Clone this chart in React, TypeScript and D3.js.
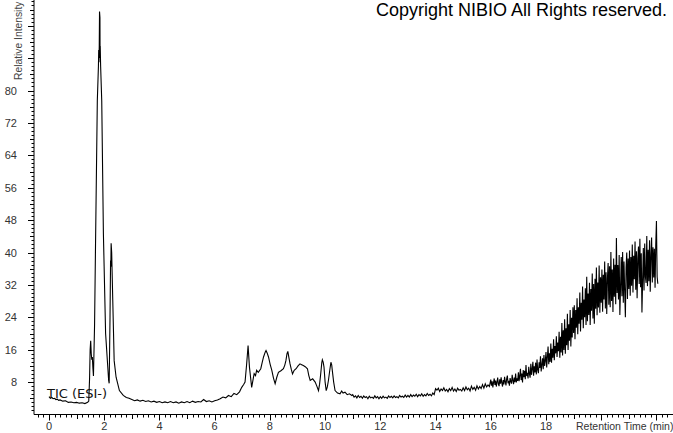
import * as d3 from "d3";

// TIC chromatogram, negative ESI
const xTickLabels = [0, 2, 4, 6, 8, 10, 12, 14, 16, 18];
const yTickLabels = [8, 16, 24, 32, 40, 48, 56, 64, 72, 80];

// [retention time (min), relative intensity]
const earlyTrace: [number, number][] = [
  [0.0, 4.4], [0.05, 4.0], [0.1, 4.2], [0.15, 3.9], [0.2, 4.0], [0.25, 3.7],
  [0.3, 3.8], [0.35, 3.5], [0.4, 3.6], [0.5, 3.3], [0.6, 3.4], [0.7, 3.0],
  [0.8, 3.1], [0.9, 2.9], [1.0, 3.0], [1.1, 2.8], [1.2, 2.9], [1.3, 2.7],
  [1.4, 3.0], [1.44, 3.3], [1.47, 9.0], [1.49, 16.0], [1.51, 18.2],
  [1.53, 15.0], [1.55, 13.5], [1.57, 14.2], [1.59, 11.5], [1.61, 9.5],
  [1.65, 22.0], [1.69, 44.7], [1.75, 77.5], [1.79, 86.0], [1.8, 90.0],
  [1.81, 87.0], [1.82, 91.0], [1.83, 99.5], [1.845, 98.0], [1.85, 88.0],
  [1.855, 91.0], [1.87, 86.0], [1.91, 77.5], [1.97, 44.7], [2.05, 20.0],
  [2.13, 11.6], [2.16, 8.4], [2.18, 7.7], [2.21, 24.0], [2.23, 38.0],
  [2.24, 36.5], [2.25, 42.3], [2.27, 40.0], [2.31, 28.0], [2.36, 13.3],
  [2.43, 9.2], [2.55, 5.9], [2.69, 4.7], [2.8, 4.2],
];

const midTrace: [number, number][] = [
  [2.9, 4.0], [3.0, 3.7], [3.1, 3.4], [3.2, 3.6], [3.3, 3.3], [3.4, 3.5],
  [3.5, 3.2], [3.6, 3.4], [3.7, 3.1], [3.8, 3.3], [3.9, 3.0], [4.0, 3.2],
  [4.1, 2.9], [4.2, 3.1], [4.3, 2.9], [4.4, 3.2], [4.5, 2.9], [4.6, 3.1],
  [4.7, 2.8], [4.8, 3.1], [4.9, 2.9], [5.0, 3.2], [5.1, 2.9], [5.2, 3.3],
  [5.3, 3.0], [5.4, 3.2], [5.5, 3.1], [5.6, 3.7], [5.7, 3.2], [5.8, 3.4],
  [5.9, 3.1], [6.0, 3.4], [6.1, 3.6], [6.2, 3.9], [6.3, 4.3], [6.4, 4.1],
  [6.5, 4.7], [6.6, 4.4], [6.7, 5.2], [6.8, 4.9], [6.9, 5.6], [6.98, 6.7],
  [7.05, 7.4], [7.1, 8.0], [7.16, 12.6], [7.21, 17.0], [7.26, 11.7],
  [7.34, 6.7], [7.4, 9.0], [7.43, 10.1], [7.48, 9.6], [7.52, 10.9],
  [7.58, 10.4], [7.67, 11.3], [7.72, 12.8], [7.77, 14.2], [7.83, 15.4],
  [7.86, 15.8], [7.9, 15.2], [7.95, 14.2], [8.01, 12.4], [8.07, 10.9],
  [8.13, 9.0], [8.19, 7.6], [8.25, 9.2], [8.31, 10.4], [8.4, 10.8],
  [8.49, 11.3], [8.54, 12.2], [8.58, 13.3], [8.62, 15.0], [8.65, 15.6],
  [8.69, 14.0], [8.73, 12.5], [8.78, 11.0], [8.82, 10.0], [8.88, 10.9],
  [8.95, 11.3], [9.02, 12.0], [9.09, 12.5], [9.15, 12.3], [9.21, 12.1],
  [9.28, 11.8], [9.36, 11.3], [9.41, 9.6], [9.46, 8.4], [9.55, 8.8],
  [9.64, 8.0], [9.7, 7.0], [9.76, 5.9], [9.8, 7.5], [9.84, 10.0],
  [9.88, 12.8], [9.9, 13.5], [9.93, 12.9], [9.96, 11.7], [10.0, 8.0],
  [10.04, 5.9], [10.08, 6.8], [10.12, 8.4], [10.17, 11.0], [10.21, 12.9],
  [10.24, 12.2], [10.26, 10.9], [10.31, 8.0], [10.36, 5.9], [10.45, 5.3],
  [10.54, 5.1], [10.6, 5.8], [10.65, 5.3], [10.72, 5.5], [10.8, 4.9],
  [10.88, 5.1], [10.97, 4.7],
];

// scans every 0.05 min, 11.00 - 15.95 min
const lateStart = 11.0;
const lateStep = 0.05;
const lateTrace = [
  4.9, 4.3, 4.6, 4.1, 4.7, 4.2, 4.5, 4.0, 4.6, 4.2, 4.4, 3.9, 4.5, 4.1, 4.3, 4.0, 4.6, 4.1, 4.4, 3.9,
  4.4, 4.0, 4.5, 4.1, 4.3, 4.0, 4.6, 4.2, 4.5, 4.1, 4.6, 4.2, 4.4, 4.1, 4.7, 4.3, 4.5, 4.2, 4.8, 4.3,
  4.7, 4.3, 4.9, 4.4, 4.8, 4.5, 5.0, 4.4, 4.9, 4.6, 5.1, 4.5, 4.9, 4.6, 5.2, 4.7, 5.0, 4.6, 5.3, 4.9,
  6.4, 6.0, 6.5, 5.7, 6.3, 5.9, 6.6, 5.8, 6.2, 5.6, 6.4, 5.9, 6.7, 5.8, 6.3, 5.7, 6.5, 6.0, 6.2, 5.8,
  6.6, 5.9, 6.8, 6.1, 6.5, 5.8, 7.0, 6.2, 6.7, 6.0, 7.1, 6.3, 6.9, 6.4, 7.4, 6.5, 7.6, 6.8, 7.3, 6.9,
];

// scans every 0.025 min, 16.00 - 22.05 min (noisy gradient end)
const tailStart = 16.0;
const tailStep = 0.025;
const tailTrace = [
  8.6, 7.1, 8.2, 6.7, 7.9, 8.9, 7.3, 8.4, 6.9, 8.0, 9.1, 7.5, 7.0, 8.7, 7.6, 9.2, 7.8, 6.9, 8.5, 7.4,
  9.3, 8.1, 7.2, 8.8, 9.6, 7.7, 8.3, 7.1, 9.0, 8.2, 7.6, 9.8, 8.4, 7.5, 9.1, 8.0, 10.1, 7.9, 8.9, 8.3,
  10.4, 8.2, 9.6, 11.3, 8.5, 10.1, 7.9, 11.0, 9.2, 10.8, 8.7, 12.2, 9.5, 10.3, 8.9, 11.8, 10.0, 9.1, 12.5, 9.8,
  11.2, 13.0, 9.6, 11.9, 10.4, 12.8, 9.9, 13.6, 11.0, 10.2, 12.9, 11.5, 14.4, 10.6, 12.3, 13.9, 11.2, 14.7, 12.0, 13.2,
  15.4, 11.6, 14.2, 16.8, 12.4, 15.1, 13.0, 17.5, 12.8, 16.2, 14.0, 18.6, 13.4, 16.9, 15.1, 19.3, 14.2, 17.8, 15.6, 20.4,
  14.0, 19.2, 15.3, 22.6, 14.6, 20.8, 15.9, 23.5, 15.0, 21.3, 17.1, 24.9, 15.9, 22.3, 18.2, 25.8, 16.8, 23.9, 19.0, 26.5,
  20.1, 27.0, 18.6, 25.8, 21.4, 28.7, 19.8, 26.5, 22.4, 30.1, 20.5, 27.6, 23.4, 31.6, 21.3, 28.4, 24.0, 31.2, 22.1, 34.0,
  23.0, 29.9, 24.6, 32.5, 22.1, 31.0, 25.6, 34.8, 23.7, 32.2, 22.4, 33.5, 26.1, 36.3, 24.5, 32.6, 26.4, 36.8, 25.1, 33.9,
  27.6, 35.8, 25.4, 34.5, 28.4, 37.8, 26.2, 35.1, 24.8, 33.6, 37.4, 27.1, 36.6, 26.5, 40.1, 28.0, 35.8, 25.3, 38.5, 29.1,
  37.0, 27.2, 43.6, 30.0, 36.9, 28.4, 39.4, 24.6, 31.4, 38.9, 29.2, 40.1, 27.6, 37.8, 30.4, 24.0, 36.3, 40.0, 28.5, 38.5,
  31.0, 40.5, 29.3, 38.9, 31.8, 42.0, 30.1, 39.2, 33.4, 42.7, 30.8, 40.3, 28.7, 38.6, 41.5, 32.2, 43.4, 31.4, 39.8, 25.2,
  33.1, 41.1, 30.6, 42.2, 34.0, 32.5, 44.1, 31.7, 40.7, 32.9, 43.0, 30.3, 39.5, 43.7, 32.6, 41.3, 33.8, 40.9, 31.3, 41.9,
  47.8, 34.0, 32.3,
];

const font = "'Liberation Sans', Arial, sans-serif";

export default function App() {
  const width = 673;
  const height = 433;
  const x = d3.scaleLinear().domain([0, 18]).range([49, 546]);
  const y = d3.scaleLinear().domain([0, 80]).range([414.5, 90.5]);
  const axisX = 34;
  const axisY = y(0);

  const points: [number, number][] = [
    ...earlyTrace,
    ...midTrace,
    ...lateTrace.map((v, i) => [lateStart + i * lateStep, v] as [number, number]),
    ...tailTrace.map((v, i) => [tailStart + i * tailStep, v] as [number, number]),
  ];
  const line = d3
    .line<[number, number]>()
    .x((d) => x(d[0]))
    .y((d) => y(d[1]));

  const xMinor = d3.range(-2, 114).map((i) => ({ i, t: i * 0.2 }));
  const yMinor = d3.range(1, 103);

  return (
    <svg
      width={width}
      height={height}
      style={{ position: "fixed", left: 0, top: 0, background: "#fff" }}
      fontFamily={font}
    >
      <rect width={width} height={height} fill="#fff" />

      {/* y axis */}
      <line x1={axisX} x2={axisX} y1={0} y2={axisY} stroke="#000" />
      {yMinor.map((v) => {
        const len = v % 8 === 0 ? 6 : v % 4 === 0 ? 4 : 2.5;
        const yy = Math.round(y(v)) + 0.5;
        return <line key={v} x1={axisX - len} x2={axisX} y1={yy} y2={yy} stroke="#000" />;
      })}
      {yTickLabels.map((v) => (
        <text key={v} x={17} y={y(v) + 4} textAnchor="end" fontSize={11} fill="#333">
          {v}
        </text>
      ))}
      <text transform={`translate(22,80) rotate(-90)`} fontSize={10.3} fill="#444">
        Relative Intensity
      </text>

      {/* x axis */}
      <line x1={axisX} x2={width} y1={axisY} y2={axisY} stroke="#000" />
      {xMinor.map(({ i, t }) => {
        const len = i % 10 === 0 ? 6 : i % 5 === 0 ? 4.5 : 3;
        const xx = Math.round(x(t)) + 0.5;
        return <line key={i} x1={xx} x2={xx} y1={axisY} y2={axisY + len} stroke="#000" />;
      })}
      {xTickLabels.map((v) => (
        <text key={v} x={x(v)} y={430} textAnchor="middle" fontSize={11} fill="#333">
          {v}
        </text>
      ))}
      <text x={576} y={430} fontSize={10.5} fill="#333">
        Retention Time (min)
      </text>

      {/* trace */}
      <path d={line(points) ?? ""} fill="none" stroke="#000" strokeWidth={1.1} />

      <text x={47} y={398} fontSize={13} fill="#111" fontFamily="'DejaVu Sans', Verdana, sans-serif">
        TIC (ESI-)
      </text>
      <text x={376} y={16} fontSize={18} fill="#000">
        Copyright NIBIO All Rights reserved.
      </text>
    </svg>
  );
}
